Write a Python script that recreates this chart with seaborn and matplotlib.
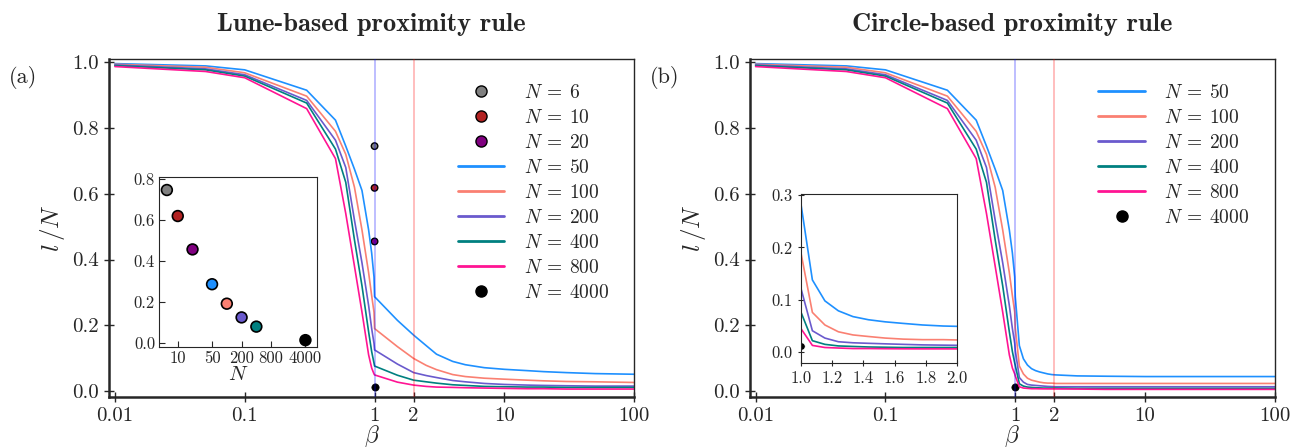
import matplotlib
matplotlib.use('Agg')
import matplotlib.pyplot as plt
from matplotlib.lines import Line2D
import seaborn as sns
import pandas as pd

sns.set_style("ticks")
plt.rcParams['font.family'] = ['serif']
plt.rcParams['font.serif'] = ['cmr10']
plt.rcParams['mathtext.fontset'] = 'cm'
plt.rcParams['axes.formatter.use_mathtext'] = True
plt.rcParams['axes.unicode_minus'] = False

# --- data ---
sizes = [50, 100, 200, 400, 800]
colors = {50: "dodgerblue", 100: "salmon", 200: "slateblue", 400: "teal", 800: "deeppink"}

# beta < 1 (same for both rules)
beta_lo = [0.01, 0.05, 0.1, 0.3, 0.5, 0.6, 0.7, 0.8, 0.9, 0.95, 0.99]
lo_50 = [0.996, 0.989, 0.977, 0.915, 0.824, 0.745, 0.675, 0.610, 0.490, 0.420, 0.347]
lo_100 = [0.994, 0.985, 0.968, 0.897, 0.790, 0.720, 0.620, 0.490, 0.360, 0.290, 0.240]
lo_200 = [0.992, 0.980, 0.962, 0.884, 0.763, 0.680, 0.520, 0.390, 0.260, 0.190, 0.145]
lo_400 = [0.990, 0.977, 0.958, 0.876, 0.736, 0.635, 0.460, 0.320, 0.180, 0.120, 0.085]
lo_800 = [0.987, 0.972, 0.953, 0.859, 0.707, 0.540, 0.380, 0.240, 0.110, 0.070, 0.052]

# lune-based, beta >= 1
beta_lune = [1.0, 1.5, 2.0, 2.5, 3.0, 4.0, 5.0, 7.0, 10.0, 15.0, 20.0, 30.0, 50.0, 100.0]
lune_50 = [0.287, 0.215, 0.170, 0.138, 0.112, 0.090, 0.080, 0.071, 0.066, 0.062, 0.059,
           0.056, 0.053, 0.051]
lune_100 = [0.190, 0.135, 0.099, 0.078, 0.065, 0.050, 0.044, 0.039, 0.036, 0.033, 0.031,
            0.029, 0.028, 0.026]
lune_200 = [0.125, 0.082, 0.056, 0.047, 0.041, 0.032, 0.028, 0.023, 0.020, 0.018, 0.017,
            0.016, 0.015, 0.015]
lune_400 = [0.076, 0.048, 0.033, 0.028, 0.024, 0.019, 0.017, 0.014, 0.013, 0.012, 0.012,
            0.011, 0.011, 0.011]
lune_800 = [0.049, 0.027, 0.018, 0.014, 0.012, 0.011, 0.010, 0.009, 0.008, 0.007, 0.007,
            0.006, 0.006, 0.006]

# circle-based, beta >= 1
beta_circ = [1.0, 1.075, 1.155, 1.241, 1.334, 1.433, 1.540, 1.655, 1.778, 1.911, 2.054,
             3.0, 5.0, 10.0, 20.0, 50.0, 100.0]
circ_50 = [0.287, 0.138, 0.098, 0.079, 0.068, 0.062, 0.058, 0.055, 0.052, 0.050, 0.049,
           0.046, 0.045, 0.044, 0.044, 0.044, 0.044]
circ_100 = [0.193, 0.076, 0.052, 0.039, 0.033, 0.030, 0.027, 0.025, 0.024, 0.024, 0.023,
            0.023, 0.023, 0.023, 0.023, 0.023, 0.023]
circ_200 = [0.124, 0.041, 0.027, 0.020, 0.018, 0.017, 0.016, 0.015, 0.014, 0.0135, 0.013,
            0.013, 0.013, 0.013, 0.013, 0.013, 0.013]
circ_400 = [0.078, 0.022, 0.015, 0.012, 0.011, 0.010, 0.0095, 0.009, 0.009, 0.009, 0.009,
            0.008, 0.008, 0.008, 0.008, 0.008, 0.008]
circ_800 = [0.046, 0.013, 0.009, 0.008, 0.007, 0.007, 0.0067, 0.0065, 0.0064, 0.0064, 0.0063,
            0.006, 0.005, 0.005, 0.005, 0.005, 0.005]

# l/N at beta = 1 for small / big N
n_small = [6, 10, 20]
l_small = [0.745, 0.618, 0.455]
small_colors = {6: "gray", 10: "firebrick", 20: "purple"}
l_4000 = 0.012

# inset (a): l/N at beta = 1 vs N
n_inset = [6, 10, 20, 50, 100, 200, 400, 4000]
l_inset = [0.745, 0.618, 0.455, 0.285, 0.190, 0.123, 0.078, 0.012]
inset_colors = ["gray", "firebrick", "purple", "dodgerblue", "salmon", "slateblue", "teal", "black"]

lo = {50: lo_50, 100: lo_100, 200: lo_200, 400: lo_400, 800: lo_800}
lune = {50: lune_50, 100: lune_100, 200: lune_200, 400: lune_400, 800: lune_800}
circ = {50: circ_50, 100: circ_100, 200: circ_200, 400: circ_400, 800: circ_800}


def make_df(hi_beta, hi_vals):
    rows = []
    for n in sizes:
        for b, v in zip(beta_lo + hi_beta, lo[n] + hi_vals[n]):
            rows.append({"beta": b, "l": v, "N": n})
    return pd.DataFrame(rows)


df_lune = make_df(beta_lune, lune)
df_circ = make_df(beta_circ, circ)

fig = plt.figure(figsize=(12.97, 4.47), dpi=100)
ax_a = fig.add_axes([0.084, 0.112, 0.405, 0.756])
ax_b = fig.add_axes([0.578, 0.112, 0.405, 0.756])


def style_main(ax, df):
    sns.lineplot(data=df, x="beta", y="l", hue="N", palette=colors, estimator=None,
                 lw=1.2, legend=False, ax=ax, zorder=2)
    ax.set_xscale("log")
    ax.set_xlim(0.009, 100)
    ax.set_ylim(-0.018, 1.01)
    ax.set_xticks([0.01, 0.1, 1, 2, 10, 100])
    ax.set_xticklabels(["0.01", "0.1", "1", "2", "10", "100"])
    ax.xaxis.set_minor_locator(matplotlib.ticker.NullLocator())
    ax.set_yticks([0.0, 0.2, 0.4, 0.6, 0.8, 1.0])
    ax.set_yticklabels(["0.0", "0.2", "0.4", "0.6", "0.8", "1.0"])
    ax.tick_params(labelsize=15, direction="inout", length=7, width=1)
    ax.set_xlabel(r"$\beta$", fontsize=17, labelpad=-1)
    ax.set_ylabel(r"$l\,/N$", fontsize=18, labelpad=4)
    for s in ["left", "bottom"]:
        ax.spines[s].set_linewidth(1.8)
    for s in ["top", "right"]:
        ax.spines[s].set_linewidth(1.0)
        ax.spines[s].set_visible(True)


style_main(ax_a, df_lune)
style_main(ax_b, df_circ)

# markers at beta = 1 (panel a)
sns.scatterplot(x=[1, 1, 1], y=l_small, hue=n_small, palette=small_colors, s=22,
                edgecolor="black", linewidth=1, legend=False, ax=ax_a, zorder=1)
for ax in (ax_a, ax_b):
    sns.scatterplot(x=[1], y=[l_4000], color="black", s=28, edgecolor="black",
                    legend=False, ax=ax, zorder=1)
    ax.axvline(1, color="blue", alpha=0.3, lw=1.2, zorder=3)
    ax.axvline(2, color="red", alpha=0.3, lw=1.2, zorder=3)

# legends
line_handles = [Line2D([], [], color=colors[n], lw=2, label=rf"$N\:=\:{n}$") for n in sizes]
big_handle = Line2D([], [], ls="", marker="o", ms=8, color="black", label=r"$N\:=\:4000$")
small_handles = [Line2D([], [], ls="", marker="o", ms=8, markerfacecolor=small_colors[n],
                        markeredgecolor="black", label=rf"$N\:=\:{n}$") for n in n_small]
leg_kw = dict(loc="upper right", frameon=False, fontsize=14, handlelength=2.4,
              labelspacing=0.36, handletextpad=1.0, borderaxespad=0.9)
ax_a.legend(handles=small_handles + line_handles + [big_handle], **leg_kw)
ax_b.legend(handles=line_handles + [big_handle], **leg_kw)

ax_a.set_title("Lune-based proximity rule", fontfamily="cmb10", fontsize=19, pad=20)
ax_b.set_title("Circle-based proximity rule", fontfamily="cmb10", fontsize=19, pad=20)
fig.text(0.007, 0.815, "(a)", fontsize=16)
fig.text(0.501, 0.815, "(b)", fontsize=16)

# inset (a)
ins_a = fig.add_axes([0.1228, 0.2244, 0.1214, 0.3803])
sns.scatterplot(x=n_inset, y=l_inset, hue=[str(n) for n in n_inset],
                palette=inset_colors, s=60, edgecolor="black", linewidth=1.2,
                legend=False, ax=ins_a, zorder=3)
ins_a.set_xscale("log")
ins_a.set_xlim(4.2, 6800)
ins_a.set_ylim(-0.02, 0.81)
ins_a.set_xticks([10, 50, 200, 800, 4000])
ins_a.set_xticklabels(["10", "50", "200", "800", "4000"])
ins_a.xaxis.set_minor_locator(matplotlib.ticker.NullLocator())
ins_a.set_yticks([0.0, 0.2, 0.4, 0.6, 0.8])
ins_a.set_yticklabels(["0.0", "0.2", "0.4", "0.6", "0.8"])
ins_a.tick_params(labelsize=12, direction="in", length=4, pad=3)
ins_a.set_xlabel(r"$N$", fontsize=15, labelpad=0)
ins_a.set_ylabel("")

# inset (b)
ins_b = fig.add_axes([0.6173, 0.1886, 0.1207, 0.3774])
df_zoom = df_circ[df_circ["beta"] >= 1.0]
sns.lineplot(data=df_zoom, x="beta", y="l", hue="N", palette=colors, estimator=None,
             lw=1.2, legend=False, ax=ins_b)
sns.scatterplot(x=[1.0], y=[l_4000], color="black", s=28, legend=False, ax=ins_b)
ins_b.set_xlim(1.0, 2.0)
ins_b.set_ylim(-0.02, 0.302)
ins_b.set_xticks([1.0, 1.2, 1.4, 1.6, 1.8, 2.0])
ins_b.set_xticklabels(["1.0", "1.2", "1.4", "1.6", "1.8", "2.0"])
ins_b.set_yticks([0.0, 0.1, 0.2, 0.3])
ins_b.set_yticklabels(["0.0", "0.1", "0.2", "0.3"])
ins_b.tick_params(labelsize=12, direction="inout", length=5, pad=3)
ins_b.set_xlabel("")
ins_b.set_ylabel("")

fig.savefig("out.png", dpi=100)
